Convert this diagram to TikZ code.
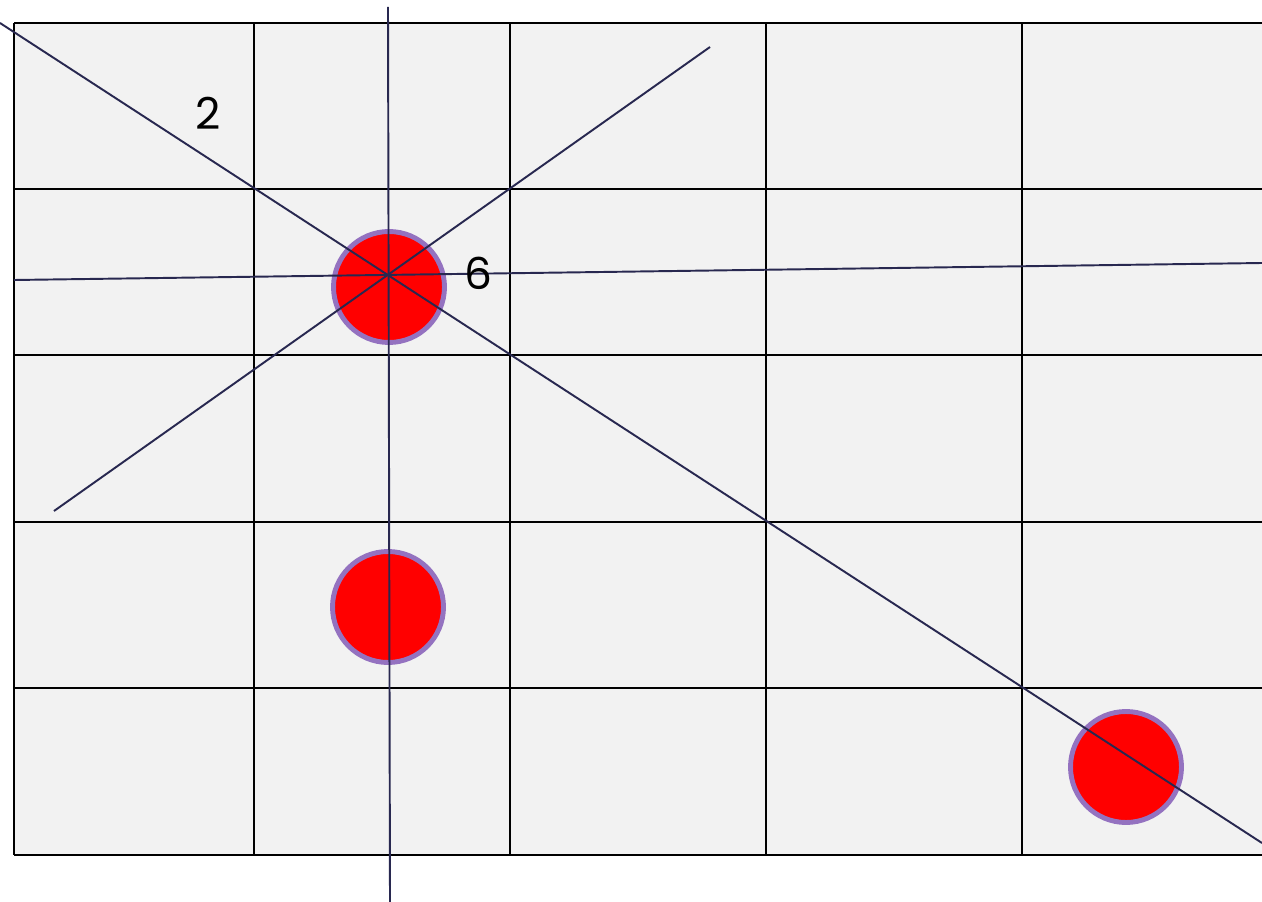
\documentclass[tikz,border=0pt]{standalone}
\usepackage{fontspec}
\setmainfont{Poppins}
\usepackage{xcolor}
\definecolor{cellgray}{RGB}{242,242,242}
\definecolor{lineblue}{RGB}{40,40,80}
\definecolor{ringviolet}{RGB}{148,114,192}
\usepackage{tikz}
\usetikzlibrary{positioning,calc}
\tikzset{
  gridline/.style={line width=1.6pt, black},
  rayline/.style={line width=1.1pt, lineblue},
  dot/.style={circle, draw=ringviolet, fill=red, line width=2.8pt,
              minimum size=2.22cm, inner sep=0pt},
  numlabel/.style={font=\fontsize{25}{30}\selectfont, inner sep=0pt},
}

\begin{document}
\begin{tikzpicture}[x=0.02cm, y=-0.02cm]
  \useasboundingbox (0,0) rectangle (1262,902);
  % Cells
  \fill[cellgray] (14,23) rectangle (1278,855);
  \foreach \gx in {14,254,510,766,1022,1278}
    \draw[gridline] (\gx,23) -- (\gx,855);
  \foreach \gy in {23,189,355,522,688,855}
    \draw[gridline] (14,\gy) -- (1278,\gy);
  % Points
  \node[dot] (pA) at (389,287) {};
  \node[dot] (pB) at (388,607) {};
  \node[dot] (pC) at (1126,767) {};
  % Line end points
  \coordinate (dTop) at (0,23);
  \coordinate (dBot) at (1262,843);
  \coordinate (vTop) at (388,7);
  \coordinate (vBot) at (390,902);
  \coordinate (sLow) at (54,511);
  \coordinate (sUp) at (710,47);
  \coordinate (hL) at (14,280);
  \coordinate (hR) at (1262,263);
  % Lines
  \draw[rayline] (dTop) -- (dBot);
  \draw[rayline] (vTop) -- (vBot);
  \draw[rayline] (sLow) -- (sUp);
  \draw[rayline] (hL) -- (hR);
  % Labels
  \node[numlabel] (nTwo) at (208,113) {2};
  \node[numlabel] (nSix) at (478,273) {6};
\end{tikzpicture}
\end{document}
